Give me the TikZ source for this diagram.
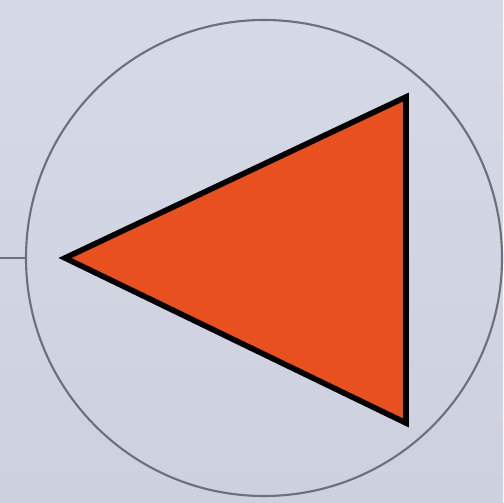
\documentclass[tikz,border=0pt]{standalone}
\usepackage{xcolor}
\usepackage{tikz}
\usetikzlibrary{positioning, calc}
\definecolor{paperbg}{HTML}{CDD0DE}
\definecolor{paperlight}{HTML}{D6D9E6}
\definecolor{rimgray}{HTML}{6C707C}
\definecolor{wedgeorange}{HTML}{E9501F}
\tikzset{
  rimcircle/.style={
    circle, draw=rimgray, line width=0.6pt, minimum size=4.76cm,
    inner sep=0pt
  },
  leadwire/.style={
    draw=rimgray, line width=0.6pt
  },
  wedge/.style={
    draw=black, line width=1.6pt, line join=miter, fill=wedgeorange
  },
}
\begin{document}
\begin{tikzpicture}
  % --- Background ---
  \shade[top color=paperlight, bottom color=paperbg] (0,0) rectangle (5.03,5.03);
  \useasboundingbox (0,0) rectangle (5.03,5.03);

  % --- Circle and lead ---
  \node[rimcircle] (body) at (2.64,2.45) {};
  \coordinate (lead) at (0,2.45);
  \draw[leadwire] (lead) -- (body.west);

  % --- Triangle ---
  \draw[wedge] (0.65,2.45) -- (4.06,4.06) -- (4.06,0.80) -- cycle;
\end{tikzpicture}
\end{document}
